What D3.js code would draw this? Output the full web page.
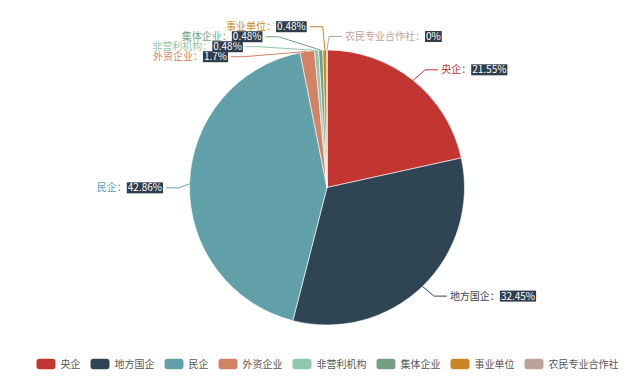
<!DOCTYPE html>
<html>
<head>
<meta charset="utf-8">
<script src="https://cdn.jsdelivr.net/npm/d3@7"></script>
<style>
    body { margin: 0; background: #fff; }
    svg { display: block; font-family: "Noto Sans CJK SC", "Noto Sans", sans-serif; }
</style>
</head>
<body>
<div class="js-chart"></div>
<script>
'use strict';

//chart data
var names = ['央企', '地方国企', '民企', '外资企业', '非营利机构', '集体企业', '事业单位', '农民专业合作社'];
var percents = [21.55, 32.45, 42.86, 1.7, 0.48, 0.48, 0.48, 0];
var colors = ['#c23531', '#2f4554', '#61a0a8', '#d48265', '#91c7ae', '#749f83', '#ca8622', '#bda29a'];

var W = 640, H = 381;
var cx = 327, cy = 187.5, r = 137.5;
var len = 13.5, len2 = 13, labelH = 10;

var svg = d3.select('.js-chart').append('svg')
    .attr('width', W)
    .attr('height', H);

var pie = d3.pie().sort(null).value(function (d) { return d; });
var arcs = pie(percents);
var arc = d3.arc().innerRadius(0).outerRadius(r);

//slices
svg.append('g')
    .attr('transform', 'translate(' + cx + ',' + cy + ')')
    .selectAll('path')
    .data(arcs)
    .enter()
    .append('path')
    .attr('d', arc)
    .style('fill', function (d, i) { return colors[i]; })
    .style('stroke', '#fff')
    .style('stroke-width', 0.6);

/****
// label layout, same idea as echarts pie: push labels apart, then move x along a circle
****/
var layouts = arcs.map(function (a, i) {
    var mid = (a.startAngle + a.endAngle) / 2;
    var sx = Math.sin(mid), sy = -Math.cos(mid);
    var dir = sx < -1e-9 ? -1 : 1;
    var x1 = cx + r * sx, y1 = cy + r * sy;
    var x2 = cx + (r + len) * sx, y2 = cy + (r + len) * sy;
    var x3 = x2 + dir * len2;
    return {
        i: i, dir: dir,
        x: x3 + dir * 5, y: y2, height: labelH,
        pts: [[x1, y1], [x2, y2], [x3, y2]]
    };
});

function adjustSide(list, dir) {
    list.sort(function (a, b) { return a.y - b.y; });
    function shiftUp(end, delta) {
        for (var j = end; j >= 0; j--) {
            list[j].y -= delta;
            if (j > 0 && list[j].y > list[j - 1].y + list[j - 1].height) break;
        }
    }
    function shiftDown(start, end, delta) {
        for (var j = start; j < end; j++) {
            list[j].y += delta;
            if (j > start && j + 1 < end && list[j + 1].y > list[j].y + list[j].height) {
                shiftUp(j, delta / 2);
                return;
            }
        }
        shiftUp(end - 1, delta / 2);
    }
    function changeX(sub, isDown) {
        var last = isDown ? Number.MAX_VALUE : 0;
        sub.forEach(function (l) {
            var dy = Math.abs(l.y - cy);
            var R = r + len + len2;
            var dx = dy < r + len - 1e-6 ? Math.sqrt(R * R - dy * dy) : Math.abs(l.x - cx);
            if (isDown && dx >= last) dx = last - 10;
            if (!isDown && dx <= last) dx = last + 10;
            l.x = cx + dx * dir;
            last = dx;
        });
    }
    var lastY = 0;
    for (var i = 0; i < list.length; i++) {
        var delta = list[i].y - lastY;
        if (delta < 0) shiftDown(i, list.length, -delta);
        lastY = list[i].y + list[i].height;
    }
    if (H - lastY < 0) shiftUp(list.length - 1, lastY - H);
    changeX(list.filter(function (l) { return l.y < cy; }), false);
    changeX(list.filter(function (l) { return l.y >= cy; }), true);
}

adjustSide(layouts.filter(function (l) { return l.dir < 0; }), -1);
adjustSide(layouts.filter(function (l) { return l.dir > 0; }), 1);

layouts.forEach(function (l) {
    var p = l.pts;
    var dist = p[1][0] - p[2][0];
    p[2][0] = l.x - l.dir * 3;
    p[1][1] = p[2][1] = l.y;
    p[1][0] = p[2][0] + dist;
});

//label lines
svg.append('g').selectAll('polyline')
    .data(layouts)
    .enter()
    .append('polyline')
    .attr('points', function (l) { return l.pts.map(function (p) { return p.join(','); }).join(' '); })
    .style('fill', 'none')
    .style('stroke', function (l) { return colors[l.i]; })
    .style('stroke-width', 1);

//label texts: name in slice colour + percent on dark box, one text element each
var lab = svg.append('g').selectAll('g')
    .data(layouts)
    .enter()
    .append('g')
    .style('font-size', '10px');

lab.each(function (l) {
    var g = d3.select(this);
    var pad = 1;
    var t = g.append('text')
        .attr('y', l.y)
        .attr('dy', '0.35em');
    var nameS = t.append('tspan')
        .style('fill', colors[l.i])
        .text(names[l.i] + '：');
    var pctS = t.append('tspan')
        .attr('dx', pad)
        .style('fill', '#fff')
        .text(percents[l.i] + '%');
    var nw = nameS.node().getComputedTextLength();
    var pw = pctS.node().getComputedTextLength();
    var x0 = l.dir > 0 ? l.x : l.x - (nw + pw + pad * 2);
    t.attr('x', x0);
    g.insert('rect', 'text')
        .attr('x', x0 + nw)
        .attr('y', l.y - 5.5)
        .attr('width', pw + pad * 2)
        .attr('height', 11)
        .style('fill', '#2f3d4d');
});

/****
// legend at the bottom
****/
var sw = 19, sh = 10.5, txtGap = 5, itemGap = 10, legendY = 364;
var legend = svg.append('g').style('font-size', '10px');
var items = legend.selectAll('g')
    .data(names)
    .enter()
    .append('g');
items.append('rect')
    .attr('width', sw)
    .attr('height', sh)
    .attr('y', legendY - sh / 2)
    .attr('rx', 3)
    .style('fill', function (d, i) { return colors[i]; });
items.append('text')
    .attr('x', sw + txtGap)
    .attr('y', legendY)
    .attr('dy', '0.35em')
    .style('fill', '#555')
    .text(function (d) { return d; });

var widths = [];
items.each(function () {
    widths.push(sw + txtGap + d3.select(this).select('text').node().getComputedTextLength());
});
var total = d3.sum(widths) + itemGap * (widths.length - 1);
var lx = cx + 0.5 - total / 2;
items.attr('transform', function (d, i) {
    var t = 'translate(' + lx + ',0)';
    lx += widths[i] + itemGap;
    return t;
});
</script>
</body>
</html>
